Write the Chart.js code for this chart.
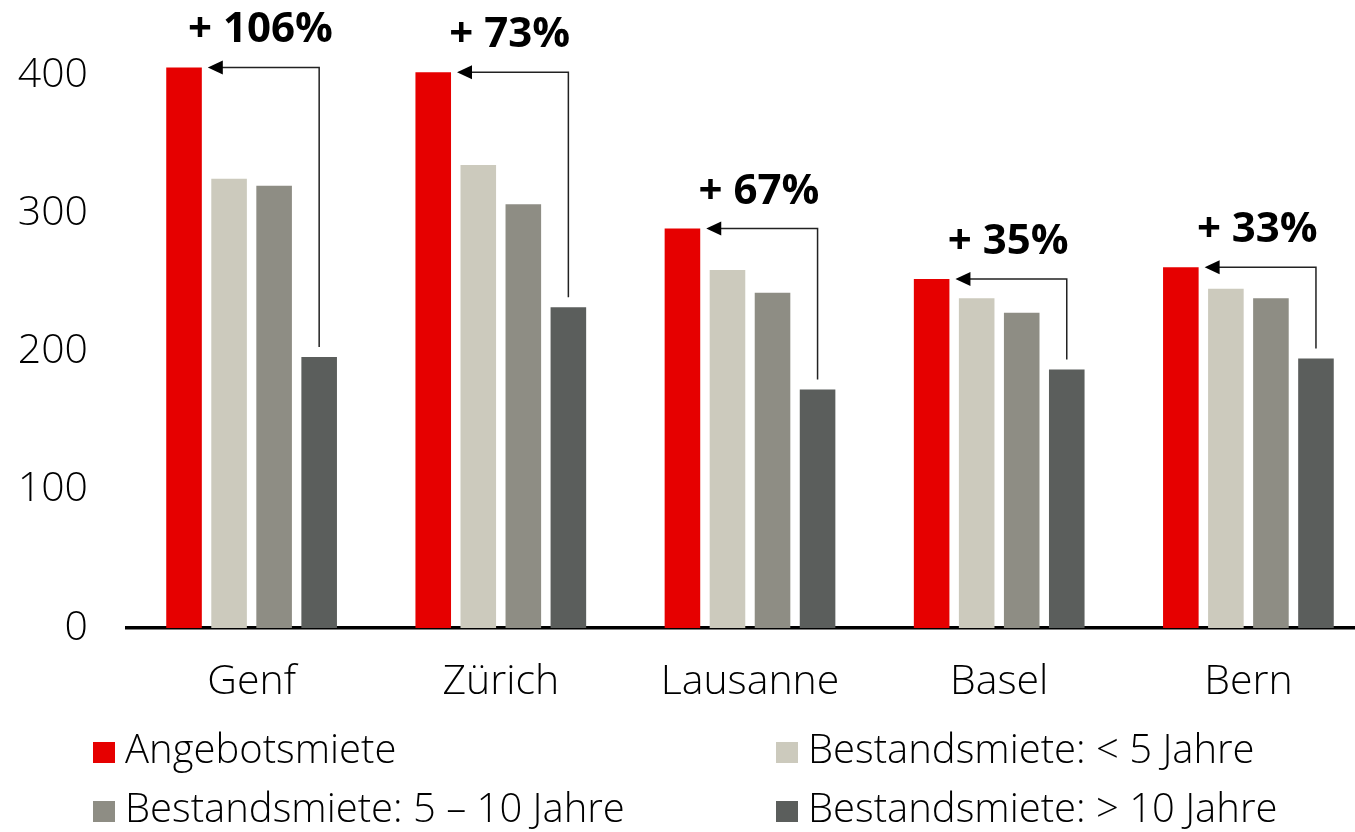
<!DOCTYPE html>
<html>
<head>
<meta charset="utf-8">
<script src="https://cdn.jsdelivr.net/npm/chart.js@4.4.1/dist/chart.umd.min.js"></script>
<style>
  html, body { margin: 0; padding: 0; background: #fff; overflow: hidden; }
  #wrap { position: relative; width: 1373px; height: 832px; }
</style>
</head>
<body>
<div id="wrap"><canvas id="chart"></canvas></div>
<script>
// values
const cities = ['Genf', 'Zürich', 'Lausanne', 'Basel', 'Bern'];
const angebotsmiete = [405.5, 402, 289, 252.5, 261];
const bestandUnter5 = [325, 335, 259, 238.5, 245.5];
const bestand5bis10 = [320, 306.5, 242.5, 228, 238.5];
const bestandUeber10 = [196, 232, 172.5, 187, 195];
const zuwachsLabels = ['+ 106%', '+ 73%', '+ 67%', '+ 35%', '+ 33%'];
const yTicks = [0, 100, 200, 300, 400];

const seriesNames = [
    'Angebotsmiete',
    'Bestandsmiete: < 5 Jahre',
    'Bestandsmiete: 5 – 10 Jahre',
    'Bestandsmiete: > 10 Jahre'
];
const seriesColors = ['#E60000', '#CCCABD', '#8E8D84', '#5B5E5C'];

const FONT = '"Open Sans", "Noto Sans", sans-serif';

// arrows from the oldest rent bar up and back to the offer rent bar
const arrowPlugin = {
    id: 'arrows',
    afterDatasetsDraw(chart) {
        const ctx = chart.ctx;
        const red = chart.getDatasetMeta(0).data;
        const dark = chart.getDatasetMeta(3).data;
        ctx.save();
        red.forEach((bar, i) => {
            const d = dark[i];
            const yTop = bar.y;
            const tipX = bar.x + bar.width / 2 + 6;
            const xV = d.x;
            ctx.strokeStyle = '#222';
            ctx.lineWidth = 1.5;
            ctx.beginPath();
            ctx.moveTo(xV, d.y - 10);
            ctx.lineTo(xV, yTop);
            ctx.lineTo(tipX + 12, yTop);
            ctx.stroke();
            ctx.fillStyle = '#000';
            ctx.beginPath();
            ctx.moveTo(tipX, yTop);
            ctx.lineTo(tipX + 15, yTop - 7);
            ctx.lineTo(tipX + 15, yTop + 7);
            ctx.closePath();
            ctx.fill();

            ctx.font = 'bold 42px ' + FONT;
            ctx.textAlign = 'center';
            ctx.textBaseline = 'middle';
            ctx.fillText(zuwachsLabels[i], (bar.x + bar.width / 2 + xV) / 2, yTop - 37);
        });
        ctx.restore();
    }
};

// legend in two columns below the axis
const legendPlugin = {
    id: 'gridLegend',
    afterDraw(chart) {
        const ctx = chart.ctx;
        const cols = [93, 776];
        const rows = [752, 811];
        ctx.save();
        ctx.font = '300 40px ' + FONT;
        ctx.textBaseline = 'middle';
        ctx.textAlign = 'left';
        chart.data.datasets.forEach((ds, i) => {
            const x = cols[i % 2];
            const y = rows[Math.floor(i / 2)];
            ctx.fillStyle = ds.backgroundColor;
            ctx.fillRect(x, y - 10, 22, 21);
            ctx.fillStyle = '#000';
            ctx.fillText(ds.label, x + 32, y);
        });
        ctx.restore();
    }
};

const datasets = [angebotsmiete, bestandUnter5, bestand5bis10, bestandUeber10].map((vals, i) => ({
    label: seriesNames[i],
    data: vals,
    backgroundColor: seriesColors[i],
    borderWidth: 0,
    categoryPercentage: 0.723,
    barPercentage: 0.79
}));

new Chart(document.getElementById('chart'), {
    type: 'bar',
    data: { labels: cities, datasets: datasets },
    options: {
        responsive: true,
        maintainAspectRatio: false,
        animation: false,
        layout: { padding: { top: 6, left: 0, right: 0, bottom: 104 } },
        plugins: {
            legend: { display: false },
            tooltip: { enabled: false }
        },
        scales: {
            x: {
                grid: { display: false, drawTicks: false },
                border: { display: true, color: '#000', width: 3.5 },
                ticks: {
                    color: '#000',
                    padding: 30,
                    font: { family: FONT, size: 41, weight: '300' }
                },
                afterFit: s => { s.height = 100; }
            },
            y: {
                min: 0,
                max: 450,
                grid: { display: false, drawTicks: false },
                border: { display: false },
                afterBuildTicks: s => { s.ticks = yTicks.map(v => ({ value: v })); },
                ticks: {
                    color: '#000',
                    padding: 39,
                    font: { family: FONT, size: 41, weight: '300' }
                },
                afterFit: s => {
                    s.width = 127;
                    s.paddingTop = 0;
                    s.paddingBottom = 0;
                }
            }
        }
    },
    plugins: [arrowPlugin, legendPlugin]
});
</script>
</body>
</html>
